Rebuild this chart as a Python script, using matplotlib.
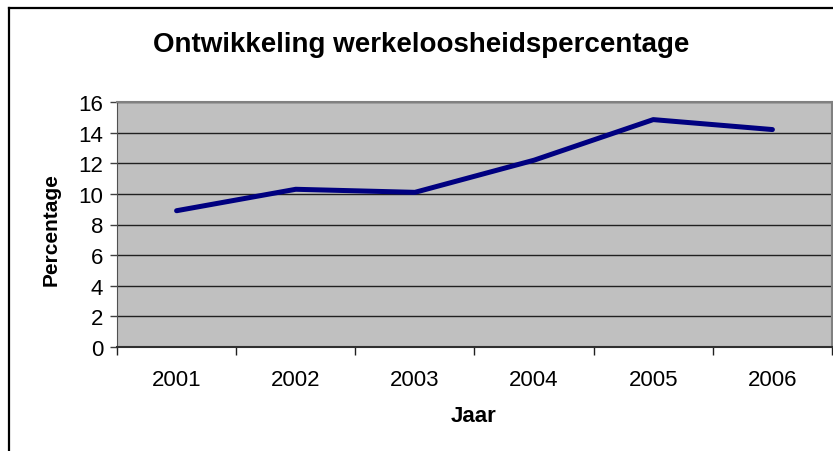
import matplotlib.pyplot as plt
from matplotlib.lines import Line2D

plt.rcParams['font.family'] = ['Liberation Sans', 'DejaVu Sans']

# data
jaren = ["2001", "2002", "2003", "2004", "2005", "2006"]
percentage = [8.9, 10.3, 10.1, 12.2, 14.85, 14.2]
y_ticks = [0, 2, 4, 6, 8, 10, 12, 14, 16]

W, H = 833, 452
fig = plt.figure(figsize=(W / 100, H / 100), dpi=100)

# plot area in pixels: left 117, right 832, top 103, bottom 348
left, right, top, bottom = 117, 832, 103, 348
ax = fig.add_axes([left / W, 1 - bottom / H, (right - left) / W, (bottom - top) / H])
ax.set_facecolor("#c0c0c0")

x = list(range(len(jaren)))
ax.plot(x, percentage, color="#000080", lw=3.6, solid_capstyle="round", zorder=3)

ax.set_xlim(-0.5, len(jaren) - 0.5)
ax.set_ylim(0, 16)
ax.set_yticks(y_ticks)
ax.set_yticklabels([str(v) for v in y_ticks], fontsize=16)
ax.set_xticks(x)
ax.set_xticklabels(jaren, fontsize=16)
ax.tick_params(axis="x", length=0, pad=16)
ax.tick_params(axis="y", length=5, width=1, color="#404040", pad=5)
# category boundary ticks
ax.set_xticks([i - 0.5 for i in range(len(jaren) + 1)], minor=True)
ax.tick_params(axis="x", which="minor", length=6, width=1, color="#202020")

ax.grid(axis="y", color="#202020", lw=1, zorder=1)
ax.set_axisbelow(True)
for s in ["top", "right"]:
    ax.spines[s].set_color("#808080")
    ax.spines[s].set_linewidth(1.5)
ax.spines["left"].set_color("#505050")
ax.spines["bottom"].set_color("#303030")
ax.spines["bottom"].set_linewidth(1.5)

fig.text(421 / W, 1 - 45 / H, "Ontwikkeling werkeloosheidspercentage",
         ha="center", va="center", fontsize=20, fontweight="bold")
fig.text(474 / W, 1 - 417 / H, "Jaar", ha="center", va="center",
         fontsize=16, fontweight="bold")
fig.text(51 / W, 1 - 230 / H, "Percentage", ha="center", va="center",
         rotation=90, fontsize=15, fontweight="bold")

# chart frame (only left and top edges visible)
fig.add_artist(Line2D([9 / W, 9 / W], [0, 1 - 9 / H], color="black", lw=1.6,
                      transform=fig.transFigure))
fig.add_artist(Line2D([9 / W, 1], [1 - 9 / H, 1 - 9 / H], color="black", lw=1.6,
                      transform=fig.transFigure))

plt.savefig("out.png", dpi=100)
